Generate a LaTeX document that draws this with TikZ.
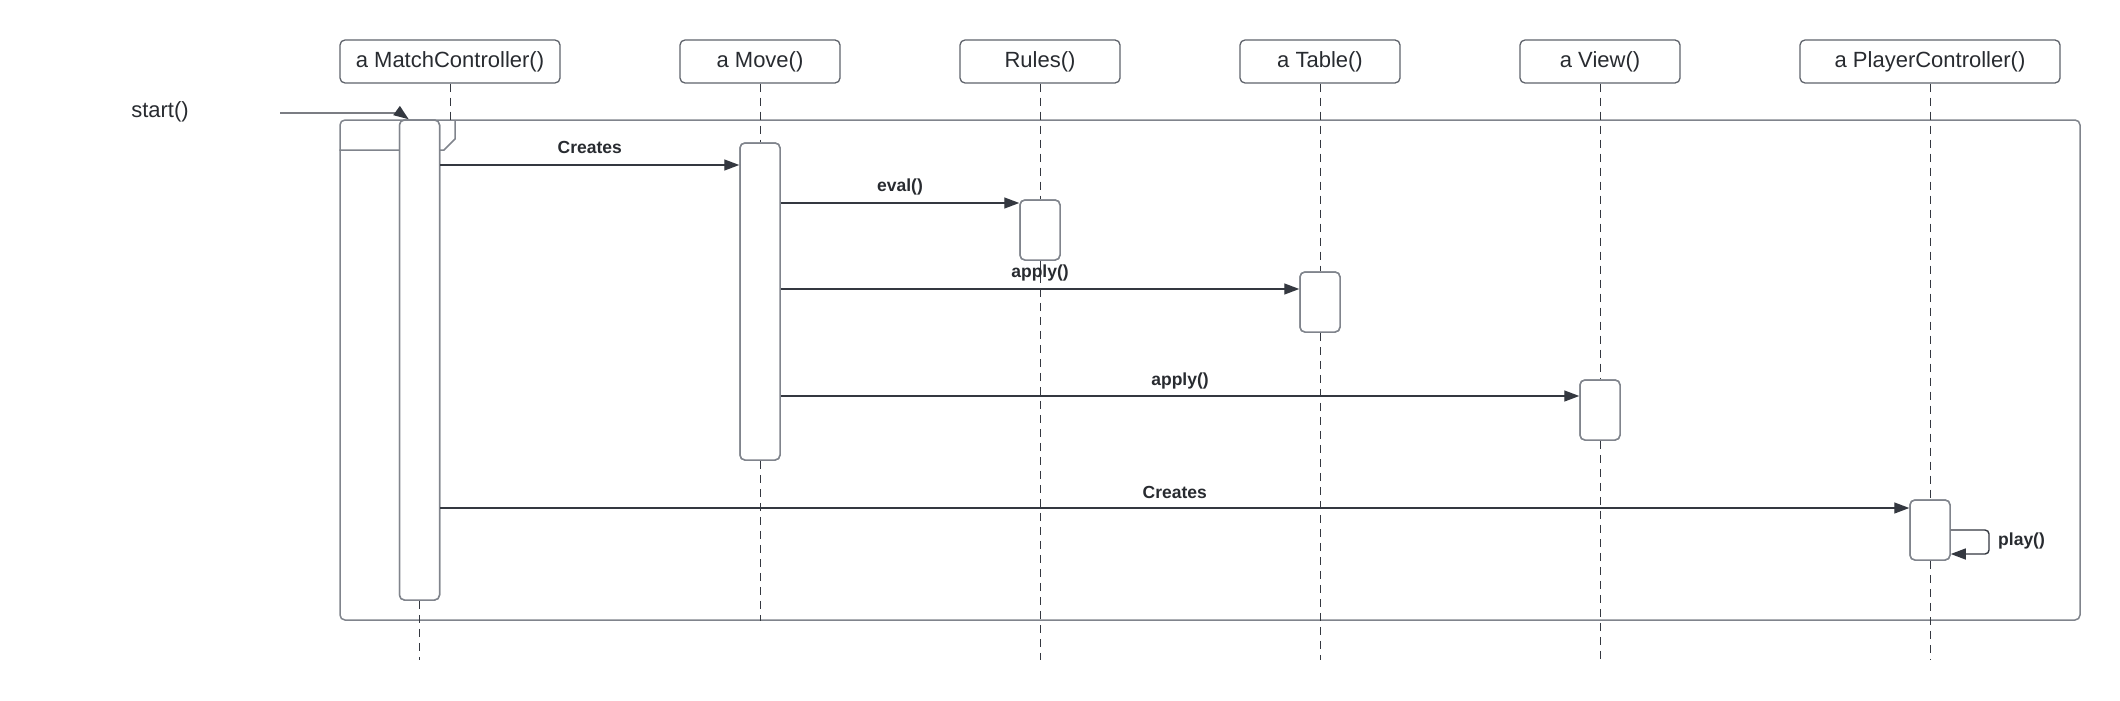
\documentclass[tikz,border=0pt]{standalone}
\usepackage{fontspec}
\setmainfont{Liberation Sans}
\usetikzlibrary{arrows.meta}
\definecolor{ink}{RGB}{52,56,64}
\definecolor{edgec}{RGB}{128,132,140}
\definecolor{hdrc}{RGB}{95,99,107}
\definecolor{txt}{RGB}{40,43,48}
\newcommand\hdfont{\fontsize{22}{26}\selectfont}
\newcommand\lbfont{\fontsize{17.5}{20}\selectfont\bfseries}
\begin{document}
\begin{tikzpicture}[x=1pt,y=-1pt,
  hdr/.style={draw=hdrc, line width=1.3pt, rounded corners=5pt, fill=white,
    minimum height=43pt, inner sep=0pt, text=txt, font=\hdfont},
  act/.style={draw=edgec, line width=1.5pt, rounded corners=5pt, fill=white,
    minimum width=40pt, inner sep=0pt},
  framebox/.style={draw=edgec, line width=1.5pt, rounded corners=5pt,
    minimum width=1740pt, minimum height=500pt, inner sep=0pt},
  life/.style={draw=ink, line width=1pt, dash pattern=on 8pt off 6pt},
  msg/.style={draw=ink, line width=1.4pt, -{Triangle[length=15pt,width=11pt]}},
  lbl/.style={text=txt, font=\lbfont, inner sep=0pt},
  tabline/.style={draw=edgec, line width=1.5pt}
]
\useasboundingbox (0,0) rectangle (2120,701);

% frame
\node[framebox] (fr) at (1210,370) {};
\draw[tabline] (fr.north west |- 0,150) -- (444,150) -- (455,139) -- (455,120);

% headers
\node[hdr, minimum width=220pt] (mc) at (450,61.5) {a MatchController()};
\node[hdr, minimum width=160pt] (mv) at (760,61.5) {a Move()};
\node[hdr, minimum width=160pt] (ru) at (1040,61.5) {Rules()};
\node[hdr, minimum width=160pt] (tb) at (1320,61.5) {a Table()};
\node[hdr, minimum width=160pt] (vw) at (1600,61.5) {a View()};
\node[hdr, minimum width=260pt] (pc) at (1930,61.5) {a PlayerController()};

% bottom end of lifelines
\coordinate (bot) at (0,660);

% activation boxes (positions)
\path (419.5,360) node[act, minimum height=480pt] (amc) {};
\path (760,301.5) node[act, minimum height=317pt] (amv) {};
\path (1040,230) node[act, minimum height=60pt] (aru) {};
\path (1320,302) node[act, minimum height=60pt] (atb) {};
\path (1600,410) node[act, minimum height=60pt] (avw) {};
\path (1930,530) node[act, minimum height=60pt] (apc) {};

% lifelines
\draw[life] (mc.south) -- (450,123);
\draw[life] (amc.south) -- (amc.south |- bot);
\draw[life] (mv.south) -- (amv.north);
\draw[life] (amv.south) -- (amv.south |- fr.south);
\draw[life] (ru.south) -- (aru.north);
\draw[life] (aru.south) -- (aru.south |- bot);
\draw[life] (tb.south) -- (atb.north);
\draw[life] (atb.south) -- (atb.south |- bot);
\draw[life] (vw.south) -- (avw.north);
\draw[life] (avw.south) -- (avw.south |- bot);
\draw[life] (pc.south) -- (apc.north);
\draw[life] (apc.south) -- (apc.south |- bot);

% redraw activation boxes on top of lifelines
\node[act, minimum height=480pt] at (amc) {};
\node[act, minimum height=317pt] at (amv) {};
\node[act, minimum height=60pt] at (aru) {};
\node[act, minimum height=60pt] at (atb) {};
\node[act, minimum height=60pt] at (avw) {};
\node[act, minimum height=60pt] at (apc) {};

% start
\node[text=txt, font=\hdfont, inner sep=0pt] (st) at (160,112) {start()};
\coordinate (s0) at (280,113);
\draw[msg] (s0) -- (400,113) -- ([xshift=10pt]amc.north west);

% messages
\draw[msg] (amc.east |- 0,165) -- node[lbl, yshift=18pt] {Creates} (amv.west |- 0,165);
\draw[msg] (amv.east |- 0,203) -- node[lbl, yshift=16pt] {eval()} (aru.west |- 0,203);
\draw[msg] (amv.east |- 0,289) -- node[lbl, yshift=16pt] {apply()} (atb.west |- 0,289);
\draw[msg] (amv.east |- 0,396) -- node[lbl, yshift=15pt] {apply()} (avw.west |- 0,396);
\draw[msg] (amc.east |- 0,508) -- node[lbl, yshift=16pt] {Creates} (apc.west |- 0,508);
\draw[msg, rounded corners=4pt] (apc.east |- 0,530) -- (1989,530) -- (1989,554) -- (apc.east |- 0,554);
\node[lbl, anchor=west] (pl) at (1998,541) {play()};
\end{tikzpicture}
\end{document}
